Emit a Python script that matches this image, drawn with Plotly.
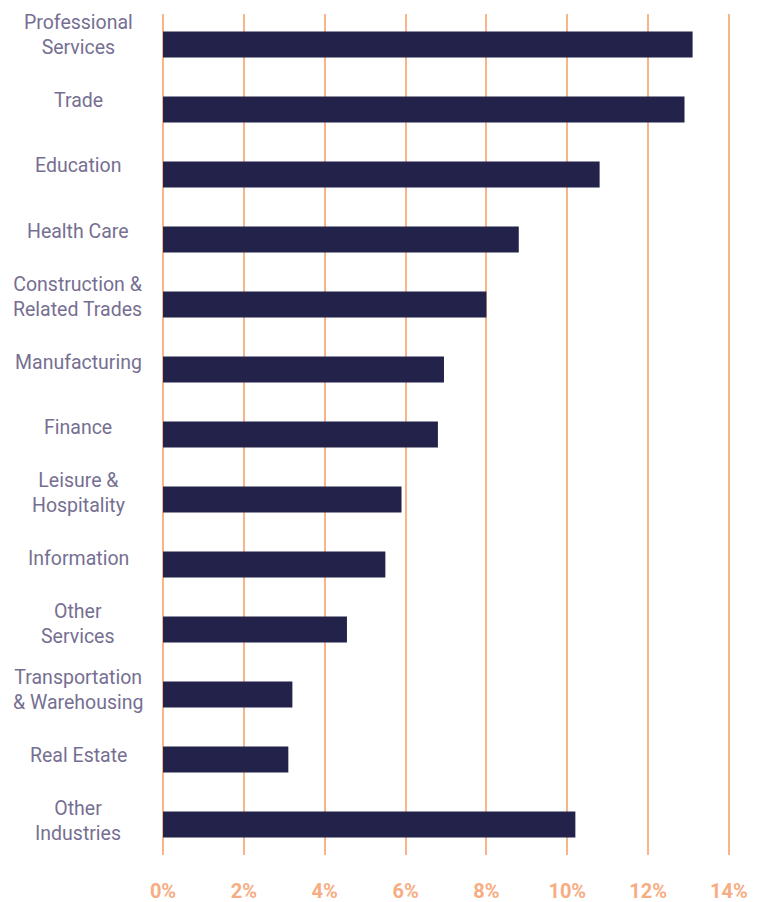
import plotly.graph_objects as go

categories = ["Professional<br>Services", "Trade", "Education", "Health Care",
              "Construction &<br>Related Trades", "Manufacturing", "Finance",
              "Leisure &<br>Hospitality", "Information", "Other<br>Services",
              "Transportation<br>& Warehousing", "Real Estate", "Other<br>Industries"]
values = [13.1, 12.9, 10.8, 8.8, 8.0, 6.95, 6.8, 5.9, 5.5, 4.55, 3.2, 3.1, 10.2]
tick_vals = [0, 2, 4, 6, 8, 10, 12, 14]
tick_text = ["0%", "2%", "4%", "6%", "8%", "10%", "12%", "14%"]

pos = list(range(len(categories)))

fig = go.Figure(go.Bar(
    x=values, y=pos, orientation="h",
    marker=dict(color="#23224a", line=dict(width=0)),
    width=0.4,
))

L, R = 161, 27
W = 758 - L - R
label_x = (78 - L) / W

for p, c in zip(pos, categories):
    fig.add_annotation(
        x=label_x, xref="paper", y=p, yref="y2",
        text=c, showarrow=False, xanchor="center", yanchor="middle",
        align="center",
        font=dict(family="Roboto", size=19.5, color="#766f92"),
    )

fig.update_layout(
    width=758, height=902,
    margin=dict(l=L, r=R, t=14, b=47, autoexpand=False),
    plot_bgcolor="white", paper_bgcolor="white",
    showlegend=False,
    yaxis=dict(range=[12.47, -0.47], showticklabels=False, showgrid=False,
               zeroline=False, showline=False, fixedrange=True,
               automargin=False),
    yaxis2=dict(overlaying="y", range=[12.527, -0.321], visible=False,
                showgrid=False, zeroline=False, fixedrange=True),
)
fig.update_xaxes(
    range=[-0.05, 14.05], tickvals=tick_vals, ticktext=tick_text,
    showgrid=True, gridcolor="#f9b48a", gridwidth=1.5,
    zeroline=False, showline=False, ticks="",
    ticklabelstandoff=22, automargin=False,
    tickfont=dict(family="Roboto", size=20, color="#f6ad83", weight="bold"),
    fixedrange=True,
)

fig.write_html("out.html")
